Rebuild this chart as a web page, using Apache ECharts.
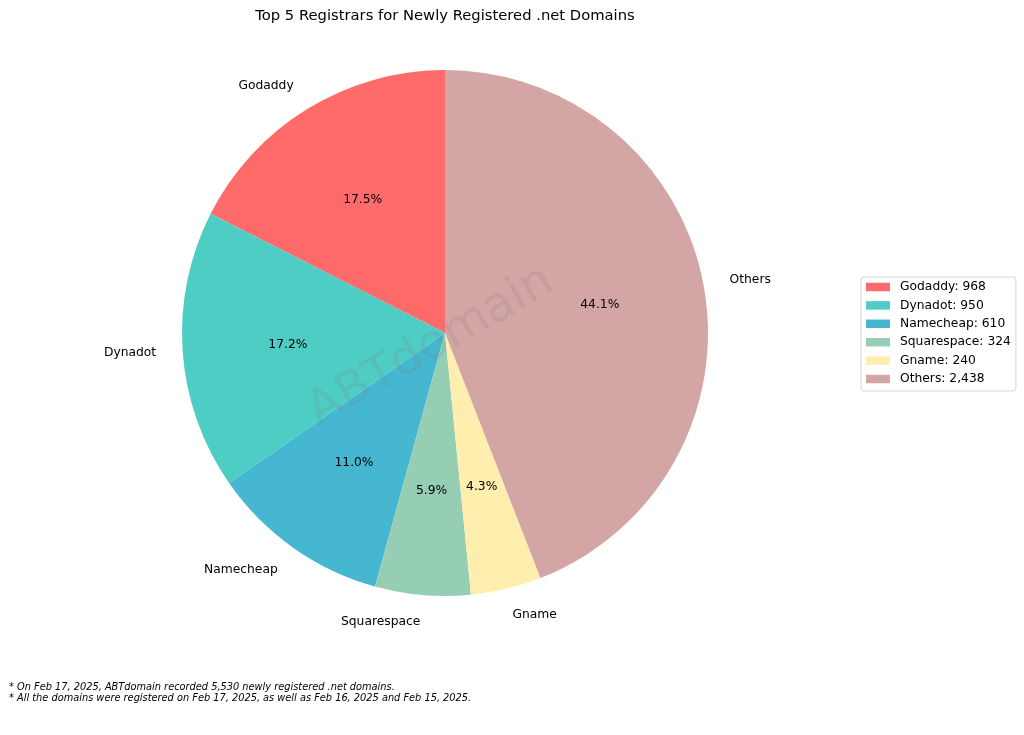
<!DOCTYPE html>
<html lang="en">
<head>
    <meta charset="UTF-8">
    <title>Top 5 Registrars</title>
    <script src="https://cdn.jsdelivr.net/npm/echarts@6/dist/echarts.min.js"></script>
    <style>
        html, body {margin: 0; padding: 0; background: #fff;}
    </style>
</head>
<body>
<div id="main" style="width:1024px;height:735px;"></div>
<script>
    var registrars = ['Godaddy', 'Dynadot', 'Namecheap', 'Squarespace', 'Gname', 'Others'];
    var domains = [968, 950, 610, 324, 240, 2438];
    var colors = ['#FF6B6B', '#4ECDC4', '#45B7D1', '#96CEB4', '#FFEEAD', '#D4A5A5'];
    var titleText = 'Top 5 Registrars for Newly Registered .net Domains';
    var watermark = 'ABTdomain';
    var notes = [
        '* On Feb 17, 2025, ABTdomain recorded 5,530 newly registered .net domains.',
        '* All the domains were registered on Feb 17, 2025, as well as Feb 16, 2025 and Feb 15, 2025.'
    ];

    var fontName = 'DejaVu Sans';
    var total = domains.reduce(function (a, b) { return a + b; }, 0);
    var pieData = registrars.map(function (name, i) {
        return {name: name, value: domains[i], itemStyle: {color: colors[i]}};
    });

    var myChart = echarts.init(document.getElementById('main'), null, {renderer: 'canvas'});
    myChart.setOption({
        animation: false,
        title: {
            text: titleText,
            left: 440,
            top: 4,
            textAlign: 'center',
            textStyle: {fontFamily: fontName, fontSize: 14.75, fontWeight: 'normal', color: '#000'}
        },
        legend: {
            orient: 'vertical',
            left: 861,
            top: 277,
            padding: [3.5, 5, 5.5, 5],
            icon: 'rect',
            itemWidth: 24,
            itemHeight: 8.5,
            itemGap: 5.4,
            borderColor: '#d5d5d5',
            borderWidth: 1,
            borderRadius: 3,
            backgroundColor: '#fff',
            data: registrars,
            formatter: function (name) {
                var v = domains[registrars.indexOf(name)];
                return name + ': ' + v.toLocaleString('en-US');
            },
            textStyle: {fontFamily: fontName, fontSize: 12.3, lineHeight: 13, color: '#000', padding: [0, 0, 0, 5]}
        },
        series: [
            {
                // the slices, with the outer names placed by the library
                type: 'pie',
                center: [445, 333],
                radius: [0, 263],
                startAngle: 90,
                clockwise: false,
                avoidLabelOverlap: false,
                silent: true,
                data: pieData,
                label: {
                    show: true,
                    position: 'outside',
                    distanceToLabelLine: 0,
                    fontFamily: fontName,
                    fontSize: 12.3,
                    color: '#000',
                    formatter: '{b}'
                },
                labelLine: {show: false, length: 26.5, length2: 0}
            },
            {
                // transparent pie only for the percent labels at 0.6 of the radius
                type: 'pie',
                center: [445, 334],
                radius: [0, 309],
                startAngle: 90,
                clockwise: false,
                avoidLabelOverlap: false,
                silent: true,
                data: pieData.map(function (d) {
                    return {name: d.name, value: d.value, itemStyle: {color: 'transparent'}};
                }),
                label: {
                    show: true,
                    position: 'inside',
                    fontFamily: fontName,
                    fontSize: 12.3,
                    color: '#000',
                    formatter: function (p) {
                        return (p.value / total * 100).toFixed(1) + '%';
                    }
                },
                labelLine: {show: false}
            }
        ],
        graphic: [
            {
                type: 'text',
                x: 431,
                y: 347,
                rotation: 30 * Math.PI / 180,
                z: 100,
                style: {
                    text: watermark,
                    fontFamily: fontName,
                    fontSize: 48,
                    fill: 'rgba(128,128,128,0.18)',
                    align: 'center',
                    verticalAlign: 'middle'
                }
            },
            {
                type: 'text',
                x: 9,
                y: 682,
                z: 100,
                style: {
                    text: notes.join('\n'),
                    fontFamily: fontName,
                    fontSize: 9.8,
                    fontStyle: 'italic',
                    lineHeight: 11,
                    fill: '#000'
                }
            }
        ]
    });
</script>
</body>
</html>
